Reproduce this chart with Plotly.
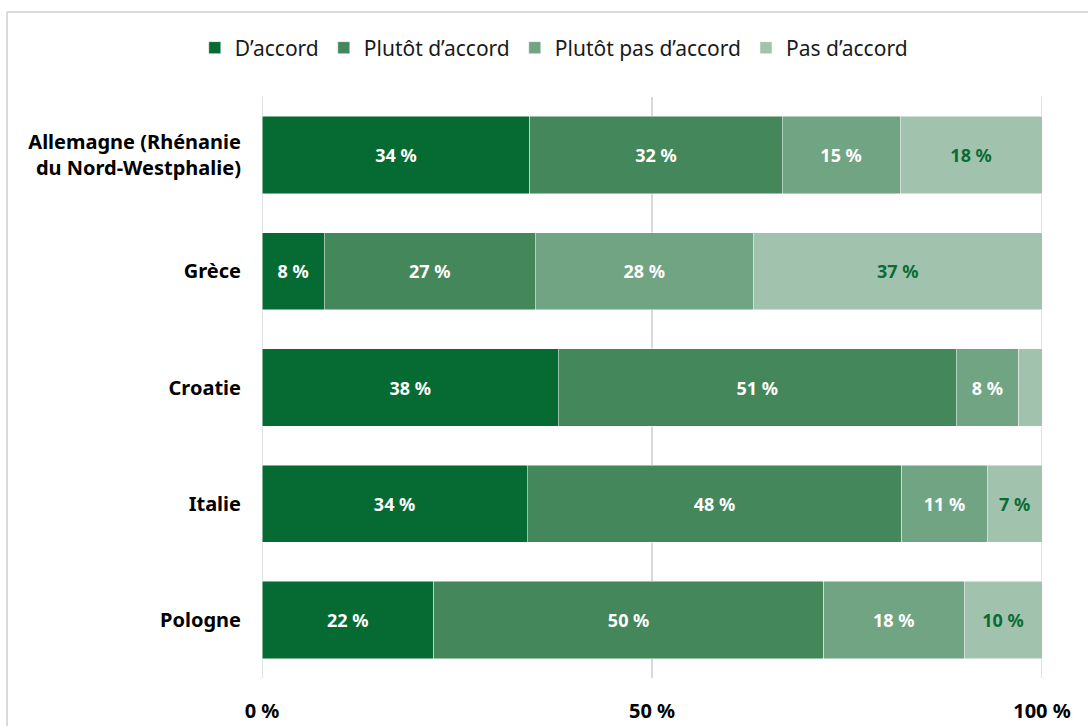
import plotly.graph_objects as go

# Survey answers by country (share of respondents, %)
countries = [
    "Allemagne (Rhénanie<br>du Nord-Westphalie)",
    "Grèce",
    "Croatie",
    "Italie",
    "Pologne",
]
series_names = ["D’accord", "Plutôt d’accord", "Plutôt pas d’accord", "Pas d’accord"]
d_accord = [34, 8, 38, 34, 22]
plutot_d_accord = [32, 27, 51, 48, 50]
plutot_pas_d_accord = [15, 28, 8, 11, 18]
pas_d_accord = [18, 37, 3, 7, 10]
# segments too narrow to carry a label
hide_label = {("Pas d’accord", "Croatie")}

x_ticks = [0, 50, 100]
x_tick_labels = ["0 %", "50 %", "100 %"]

colors = ["#066A33", "#43875B", "#70A482", "#A1C3AE"]
text_colors = ["#FFFFFF", "#FFFFFF", "#FFFFFF", "#0B6B35"]
grid_color = "#D9D9D9"

FONT = "Noto Sans"
W, H = 1088, 726
L, R, T, B = 262, 46, 97, 48

fig = go.Figure()
for name, vals, col, tcol in zip(
    series_names,
    [d_accord, plutot_d_accord, plutot_pas_d_accord, pas_d_accord],
    colors,
    text_colors,
):
    labels = [
        "" if (name, c) in hide_label else f"{v} %" for v, c in zip(vals, countries)
    ]
    fig.add_trace(
        go.Bar(
            name=name,
            y=countries,
            x=vals,
            orientation="h",
            marker=dict(color=col, line=dict(color="rgba(255,255,255,0.6)", width=0.8)),
            text=labels,
            texttemplate="%{text}",
            textposition="inside",
            insidetextanchor="middle",
            textangle=0,
            constraintext="none",
            textfont=dict(family=FONT, size=18, color=tcol, weight="bold"),
            hoverinfo="skip",
        )
    )

plot_h = H - T - B
plot_w = W - L - R
frame_x = (7 - L) / plot_w
frame_y = 1 + (T - 12) / plot_h

# vertical grid lines at the axis ends (drawn behind the bars)
edge_lines = [
    dict(type="line", xref="x", yref="paper", x0=v, x1=v, y0=0, y1=1,
         layer="below", line=dict(color=grid_color, width=1.5))
    for v in (x_ticks[0], x_ticks[-1])
]

fig.update_layout(
    width=W,
    height=H,
    barmode="stack",
    barnorm="percent",
    bargap=0.335,
    plot_bgcolor="white",
    paper_bgcolor="white",
    margin=dict(l=L, r=R, t=T, b=B, autoexpand=False),
    font=dict(family=FONT, color="#000000"),
    legend=dict(
        orientation="h",
        xref="container",
        yref="container",
        x=0.509,
        xanchor="center",
        y=1 - 48 / H,
        yanchor="middle",
        font=dict(family=FONT, size=21, color="#1a1a1a"),
        itemwidth=30,
        traceorder="normal",
    ),
    xaxis=dict(
        range=[0, 100],
        tickvals=x_ticks,
        ticktext=x_tick_labels,
        showgrid=True,
        gridcolor=grid_color,
        gridwidth=1.5,
        zeroline=False,
        showline=False,
        ticks="",
        ticklabelstandoff=19,
        tickfont=dict(family=FONT, size=20, color="#000000", weight="bold"),
        fixedrange=True,
    ),
    yaxis=dict(
        autorange="reversed",
        showgrid=False,
        zeroline=False,
        showline=False,
        ticks="",
        ticklabelstandoff=20,
        tickfont=dict(family=FONT, size=20, color="#000000", weight="bold"),
        fixedrange=True,
    ),
    shapes=edge_lines + [
        dict(type="line", xref="paper", yref="paper", x0=frame_x, x1=2, y0=frame_y, y1=frame_y,
             line=dict(color=grid_color, width=2)),
        dict(type="line", xref="paper", yref="paper", x0=frame_x, x1=frame_x, y0=frame_y, y1=-1,
             line=dict(color=grid_color, width=2)),
    ],
)

fig.write_html("out.html")
